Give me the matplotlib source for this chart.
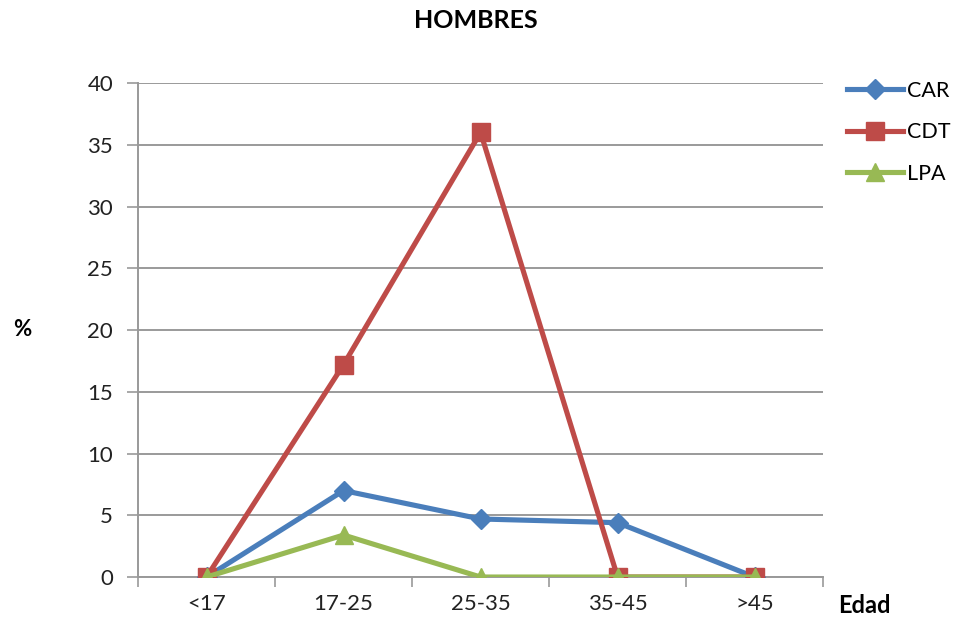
import matplotlib
matplotlib.use('Agg')
import matplotlib.pyplot as plt
import numpy as np

categories = ['<17', '17-25', '25-35', '35-45', '>45']
car = [0, 7.0, 4.7, 4.4, 0]
cdt = [0, 17.2, 36.0, 0, 0]
lpa = [0, 3.4, 0, 0, 0]
y_ticks = [0, 5, 10, 15, 20, 25, 30, 35, 40]

plt.rcParams['font.family'] = ['Lato', 'DejaVu Sans']

fig = plt.figure(figsize=(9.56, 6.27), dpi=100)
ax = fig.add_axes([0.1444, 0.0797, 0.7166, 0.7879])

x = np.arange(len(categories))
ax.plot(x, car, color='#4A7EBB', lw=3.7, marker='D', ms=10, label='CAR', zorder=3)
ax.plot(x, cdt, color='#BE4B48', lw=3.7, marker='s', ms=13, label='CDT', zorder=3)
ax.plot(x, lpa, color='#98B954', lw=3.7, marker='^', ms=13, label='LPA', zorder=4)

ax.set_xlim(-0.5, len(categories) - 0.5)
ax.set_ylim(0, 40)
ax.set_yticks(y_ticks)
ax.set_xticks(x)
ax.set_xticklabels(categories)
ax.set_xticks(np.arange(-0.5, len(categories), 1.0), minor=True)
ax.tick_params(axis='x', which='major', length=0, pad=12, labelsize=16, colors='#222222')
ax.tick_params(axis='x', which='minor', length=7, color='#999999', width=1.2)
ax.tick_params(axis='y', length=8, color='#999999', width=1.2, pad=10, labelsize=16, labelcolor='#222222')
ax.yaxis.grid(True, color='#9a9a9a', lw=1.4)
ax.set_axisbelow(True)
for s in ['top', 'right']:
    ax.spines[s].set_visible(False)
for s in ['left', 'bottom']:
    ax.spines[s].set_color('#999999')
    ax.spines[s].set_linewidth(1.4)

fig.text(0.498, 0.967, 'HOMBRES', ha='center', va='center', fontsize=18, fontweight='bold')
fig.text(0.023, 0.474, '%', ha='center', va='center', fontsize=16, fontweight='bold')
fig.text(0.904, 0.035, 'Edad', ha='center', va='center', fontsize=17, fontweight='bold')

fig.legend(loc='upper left', bbox_to_anchor=(0.877, 0.885), frameon=False, fontsize=15.5,
           handlelength=2.6, labelspacing=1.0, handletextpad=0.2, borderaxespad=0)

fig.savefig('out.png', dpi=100)
